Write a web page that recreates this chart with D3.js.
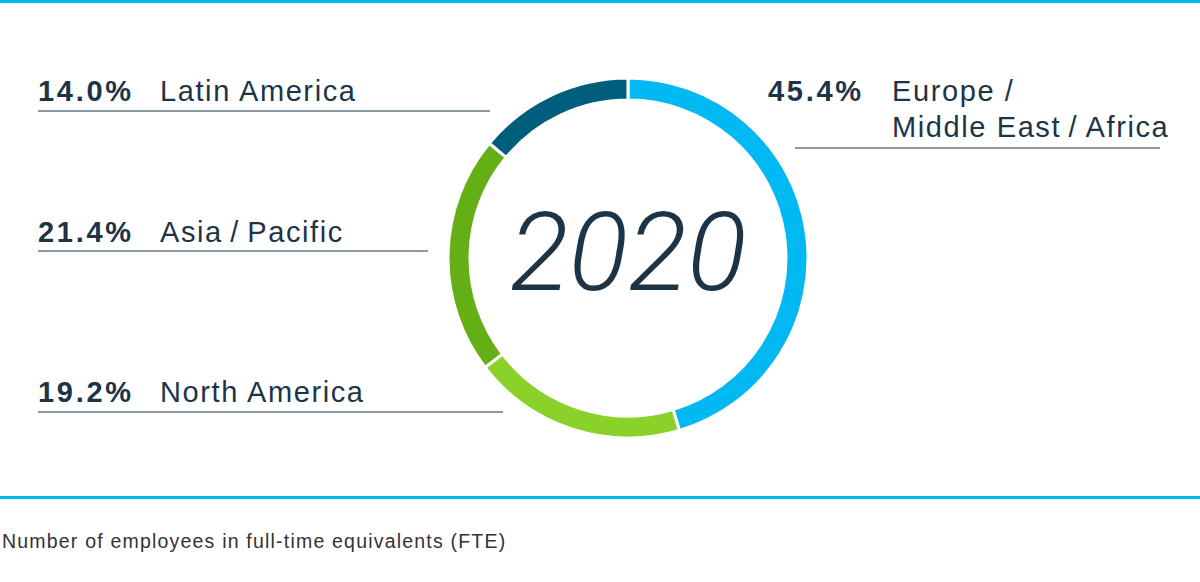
<!DOCTYPE html>
<html><head><meta charset="utf-8">
<script src="https://cdn.jsdelivr.net/npm/d3@7"></script>
<style>body{margin:0;background:#fff}svg{display:block}text{font-family:"Liberation Sans",Arial,sans-serif}</style>
</head><body><svg id="c" width="1200" height="582"></svg>
<script>
const regions = ["Europe / Middle East / Africa","North America","Asia / Pacific","Latin America"];
const shares = [45.4,19.2,21.4,14.0];
const colors = ["#00b9f2","#8ad22a","#64ae16","#005e7d"];
const year = "2020";
const note = "Number of employees in full-time equivalents (FTE)";

const svg = d3.select("#c");
const ink = "#1d3447";
svg.append("rect").attr("x",0).attr("y",0).attr("width",1200).attr("height",3).attr("fill","#00b9f2");
svg.append("rect").attr("x",0).attr("y",496).attr("width",1200).attr("height",3).attr("fill","#00b9f2");
svg.append("text").attr("x",2).attr("y",548).attr("font-size",19.5).attr("letter-spacing",1.2).attr("fill","#333").text(note);

const cx=628, cy=258;
const pie = d3.pie().sort(null).value(d=>d)(shares);
const arc = d3.arc().innerRadius(158).outerRadius(180);
const g = svg.append("g").attr("transform",`translate(${cx},${cy})`);
g.selectAll("path").data(pie).join("path").attr("d",arc)
 .attr("fill",(d,i)=>colors[i]).attr("stroke","#fff").attr("stroke-width",3);
g.append("text").attr("text-anchor","middle").attr("y",32).attr("font-size",110)
 .attr("font-style","italic").attr("fill",ink).style("font-family","Roboto").attr("font-weight",300).text(year);

const fmt = d3.format(".1f");
const layout = [
 {px:768,nx:892,ys:[101,137],names:["Europe /","Middle East\u2009/\u2009Africa"],ly:148,x1:795,x2:1160},
 {px:38,nx:160,ys:[402],names:["North America"],ly:412,x1:38,x2:503},
 {px:38,nx:160,ys:[242],names:["Asia\u2009/\u2009Pacific"],ly:251,x1:38,x2:428},
 {px:38,nx:160,ys:[101],names:["Latin America"],ly:111,x1:38,x2:490}
];
layout.forEach((L,i)=>{
  svg.append("text").attr("x",L.px).attr("y",L.ys[0]).attr("font-size",29).attr("font-weight",700).attr("letter-spacing",2.7).attr("fill",ink).text(fmt(shares[i])+"%");
  L.names.forEach((n,j)=>svg.append("text").attr("x",L.nx).attr("y",L.ys[j]).attr("font-size",29).attr("letter-spacing",1.6).attr("fill",ink).text(n));
  svg.append("line").attr("x1",L.x1).attr("x2",L.x2).attr("y1",L.ly).attr("y2",L.ly).attr("stroke",ink).attr("stroke-width",1);
});
</script></body></html>
